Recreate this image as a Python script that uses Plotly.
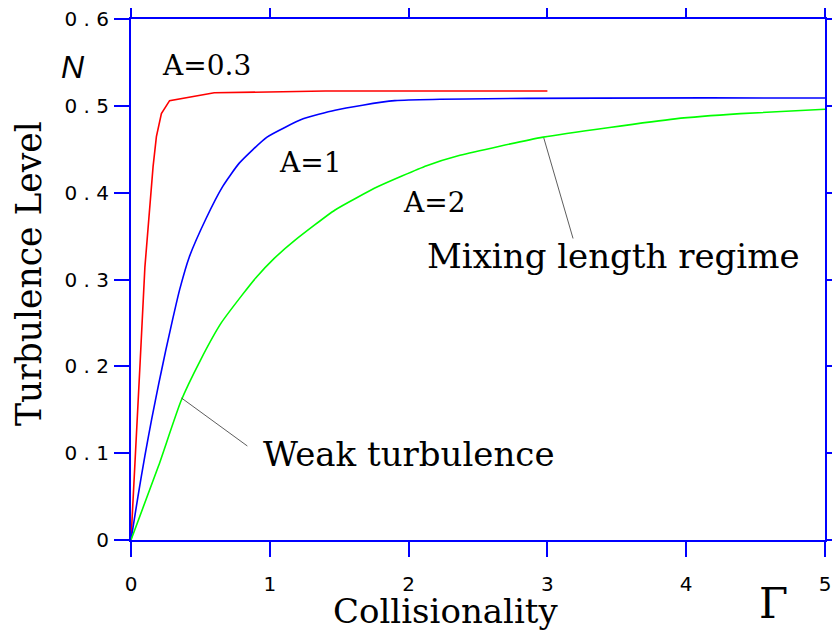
import plotly.graph_objects as go

# ---- data ----
red_x = [0, 0.03, 0.064, 0.1, 0.128, 0.159, 0.183, 0.219, 0.278, 0.6, 1.4, 3.0]
red_y = [0, 0.088, 0.199, 0.314, 0.369, 0.43, 0.4645, 0.491, 0.506, 0.515, 0.517, 0.517]

blue_x = [0, 0.05, 0.1, 0.15, 0.2, 0.25, 0.3, 0.35, 0.42, 0.54, 0.66, 0.78, 0.98, 1.24, 1.47, 1.9, 5]
blue_y = [0, 0.05, 0.097, 0.14, 0.18, 0.218, 0.254, 0.288, 0.326, 0.370, 0.407, 0.434, 0.464, 0.485, 0.495, 0.506, 0.509]

green_x = [0, 0.2, 0.36, 0.5, 0.65, 0.8, 0.9, 1.03, 1.18, 1.47, 1.78, 2.13, 2.37, 2.97, 3.92, 4.39, 5]
green_y = [0, 0.086, 0.16, 0.207, 0.25, 0.282, 0.302, 0.324, 0.345, 0.38, 0.407, 0.431, 0.443, 0.464, 0.485, 0.491, 0.496]

x_tickvals = [0, 1, 2, 3, 4, 5]
x_ticktext = ["0", "1", "2", "3", "4", "5"]
y_tickvals = [0, 0.1, 0.2, 0.3, 0.4, 0.5, 0.6]
y_ticktext = ["0", "0 . 1", "0 . 2", "0 . 3", "0 . 4", "0 . 5", "0 . 6"]

# curve labels: (text, x, y)
curve_labels = [("A=0.3", 0.542, 0.547), ("A=1", 1.295, 0.435), ("A=2", 2.186, 0.389)]
# pointer annotations: (text, point x, point y, tail x, tail y, text x, text y)
pointers = [
    ("Weak turbulence", 0.364, 0.1635, 0.849, 0.107, 2.004, 0.0996),
    ("Mixing length regime", 2.974, 0.463, 3.188, 0.3455, 3.477, 0.3265),
]

AXC = "#0000ff"
SERIF = "DejaVu Serif"

# page body adds an 8 px offset; keep the figure inside the 840x640 window
OFF = 8
FIG_W, FIG_H = 824, 624
PX0, PX1, PY1, PY0 = 131, 825, 19, 540   # plot area in window pixels
PW, PH = PX1 - PX0, PY0 - PY1


def px(X):
    return (X - PX0) / PW


def py(Y):
    return (PY0 - Y) / PH


fig = go.Figure()
fig.add_trace(go.Scatter(x=red_x, y=red_y, mode="lines", line=dict(color="#ff0000", width=1.6), showlegend=False))
fig.add_trace(go.Scatter(x=blue_x, y=blue_y, mode="lines", line=dict(color="#0000ff", width=1.6, shape="spline", smoothing=0.5), showlegend=False))
fig.add_trace(go.Scatter(x=green_x, y=green_y, mode="lines", line=dict(color="#00ff00", width=1.6, shape="spline", smoothing=0.5), showlegend=False))

annotations = []
for t, x, y in curve_labels:
    annotations.append(dict(text=t, x=x, y=y, xref="x", yref="y", showarrow=False,
                            font=dict(family=SERIF, size=28, color="black"),
                            xanchor="center", yanchor="middle"))
for t, ptx, pty, tx, ty, lx, ly in pointers:
    annotations.append(dict(text="", x=ptx, y=pty, ax=tx, ay=ty, xref="x", yref="y",
                            axref="x", ayref="y", showarrow=True, arrowhead=0,
                            arrowwidth=0.8, arrowcolor="#333333", standoff=0, startstandoff=0))
    annotations.append(dict(text=t, x=lx, y=ly, xref="x", yref="y", showarrow=False,
                            font=dict(family=SERIF, size=34, color="black"),
                            xanchor="center", yanchor="middle"))

annotations += [
    dict(text="Collisionality", x=px(445.5), y=py(610.5), xref="paper", yref="paper",
         showarrow=False, font=dict(family=SERIF, size=34, color="black"), xanchor="center", yanchor="middle"),
    dict(text="Turbulence Level", x=px(29), y=py(274), xref="paper", yref="paper",
         showarrow=False, textangle=-90, font=dict(family=SERIF, size=34.5, color="black"),
         xanchor="center", yanchor="middle"),
    dict(text="Γ", x=px(773), y=py(603), xref="paper", yref="paper",
         showarrow=False, font=dict(family=SERIF, size=42, color="black"), xanchor="center", yanchor="middle"),
    dict(text="<i>N</i>", x=px(73), y=py(67), xref="paper", yref="paper",
         showarrow=False, font=dict(family="Liberation Sans", size=32, color="black"),
         xanchor="center", yanchor="middle"),
]

axis_common = dict(showline=True, linecolor=AXC, linewidth=2, mirror="ticks",
                   ticks="outside", ticklen=15, tickwidth=2, tickcolor=AXC,
                   showgrid=False, zeroline=False, automargin=False,
                   ticklabeloverflow="allow",
                   tickfont=dict(family="DejaVu Sans", size=20, color="black"))

fig.update_layout(
    template="none",
    width=FIG_W, height=FIG_H,
    margin=dict(l=PX0 - OFF, r=FIG_W - (PX1 - OFF), t=PY1 - OFF, b=FIG_H - (PY0 - OFF), autoexpand=False),
    plot_bgcolor="white", paper_bgcolor="white",
    xaxis=dict(range=[0, 5], tickmode="array", tickvals=x_tickvals, ticktext=x_ticktext,
               ticklabelstandoff=10, **axis_common),
    yaxis=dict(range=[0, 0.6], tickmode="array", tickvals=y_tickvals, ticktext=y_ticktext,
               ticklabelstandoff=1, **axis_common),
    annotations=annotations,
    showlegend=False,
)

fig.write_html("out.html")
